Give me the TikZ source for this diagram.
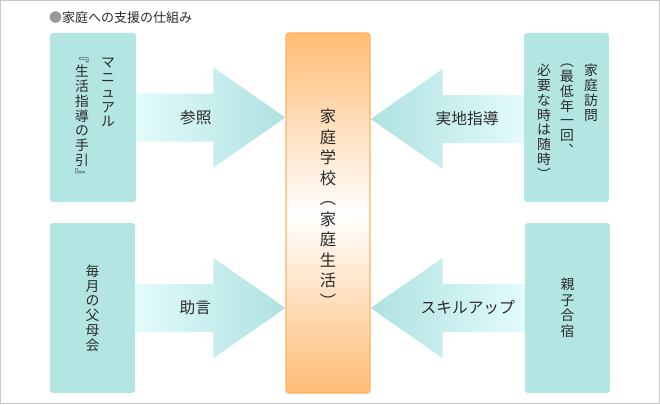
\documentclass[tikz,border=0pt]{standalone}
\usepackage{fontspec}
\setmainfont{Noto Sans CJK JP}
\usetikzlibrary{calc}
\definecolor{boxteal}{HTML}{B3E5E3}
\definecolor{arrowlight}{HTML}{E3FBFB}
\definecolor{arrowdark}{HTML}{AFE1E1}
\definecolor{schoolorange}{HTML}{FFBD76}
\definecolor{schoolline}{HTML}{FFB35E}
\definecolor{inkgray}{HTML}{2A2A2A}
\definecolor{framegray}{HTML}{C8C8C8}
% block arrow from the tail point #1 to the tip #2, shaded with #3
\newcommand{\blockarrow}[3]{%
  \shade[#3] ($(#1)+(0,-24)$) -- ($(#2)!72pt!(#1)+(0,-24)$) -- ($(#2)!72pt!(#1)+(0,-50)$)
    -- (#2) -- ($(#2)!72pt!(#1)+(0,50)$) -- ($(#2)!72pt!(#1)+(0,24)$) -- ($(#1)+(0,24)$) -- cycle;}

\begin{document}
\begin{tikzpicture}[x=1pt, y=-1pt,
	sidebox/.style={fill=boxteal, rounded corners=3pt, inner sep=0pt, minimum width=86pt, minimum height=169pt},
	vtext/.style={text=inkgray, align=center, inner sep=0pt, font=\fontsize{13.8}{14.8}\selectfont},
	label/.style={text=inkgray, inner sep=0pt, font=\fontsize{15.7}{18}\selectfont}]
	\useasboundingbox (0,0) rectangle (660,404);
	% outer frame
	\draw[framegray] (0.5,0.5) rectangle (659.5,403.5);
	% title
	\node[anchor=west, inner sep=0pt, text=inkgray, font=\fontsize{13}{14}\selectfont] (title) at (49,18) {\textcolor{gray!80}{●}家庭への支援の仕組み};
	% centre box: home school
	\node[draw=schoolline, line width=1.2pt, rounded corners=3pt, minimum width=84pt, minimum height=360pt,
		top color=schoolorange, bottom color=schoolorange, middle color=white] (school) at (328,213) {};
	\node[vtext, font=\fontsize{16.3}{20.5}\selectfont] (schooltext) at (328,208) {家\\庭\\学\\校\\︵\\家\\庭\\生\\活\\︶};
	% left boxes
	\node[sidebox] (manual) at (93,117.5) {};
	\node[vtext, anchor=north] (manualA) at (108,58) {マ\\ニ\\ュ\\ア\\ル};
	\node[vtext, anchor=north] (manualB) at (82,58) {﹃\\生\\活\\指\\導\\の\\手\\引\\﹄};
	\node[sidebox, minimum width=85pt, minimum height=170pt, vtext] (parents) at (92.5,308) {毎\\月\\の\\父\\母\\会};
	% right boxes
	\node[sidebox, minimum width=85pt] (visit) at (566.5,117.5) {};
	\node[vtext, anchor=north] (visitA) at (591,64) {家\\庭\\訪\\問};
	\node[vtext, anchor=north] (visitB) at (567,64) {︵\\最\\低\\年\\一\\回\\︑};
	\node[vtext, anchor=north] (visitC) at (544,64) {必\\要\\な\\時\\は\\随\\時\\︶};
	\node[sidebox, minimum width=85pt, minimum height=170pt, vtext, font=\fontsize{13.8}{15.5}\selectfont] (camp) at (567.5,308) {親\\子\\合\\宿};
	% arrow tips on the centre box
	\coordinate (tipA) at (manual.east -| school.west);
	\coordinate (tipB) at ($(visit.west -| school.east)+(0,1.5)$);
	\coordinate (tipC) at (parents.east -| school.west);
	\coordinate (tipD) at (camp.west -| school.east);
	\coordinate (tailB) at ($(visit.west)+(0,1.5)$);
	% arrows into the centre box
	\blockarrow{manual.east}{tipA}{left color=arrowlight, right color=arrowdark}
	\blockarrow{tailB}{tipB}{left color=arrowdark, right color=arrowlight}
	\blockarrow{parents.east}{tipC}{left color=arrowlight, right color=arrowdark}
	\blockarrow{camp.west}{tipD}{left color=arrowdark, right color=arrowlight}
	% arrow labels
	\node[label] (refer) at ($(manual.east)!0.4!(tipA)$) {参照};
	\node[label] (guide) at ($(tailB)!0.37!(tipB)$) {実地指導};
	\node[label] (advice) at ($(parents.east)!0.4!(tipC)$) {助言};
	\node[label] (skill) at ($(camp.west)!0.37!(tipD)$) {スキルアップ};
\end{tikzpicture}
\end{document}
